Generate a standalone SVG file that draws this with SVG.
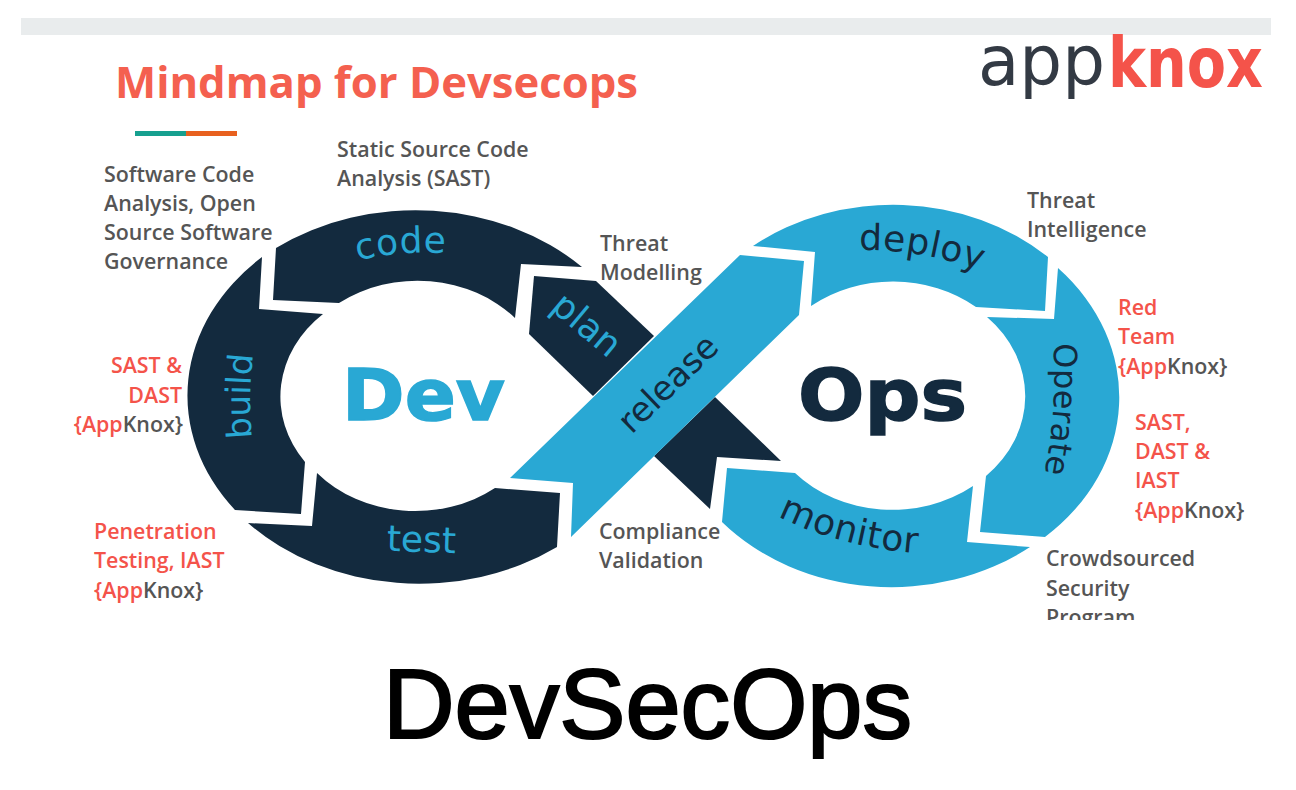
<svg xmlns="http://www.w3.org/2000/svg" width="1296" height="790" viewBox="0 0 1296 790">
<style>
.d{fill:#132a3e}.b{fill:#29a8d4}
.l{font:600 21.4px "Open Sans","Liberation Sans",sans-serif;fill:#555}
.r{fill:#f4534a}.k{fill:#555}
.t{font:400 36px "DejaVu Sans","Open Sans",sans-serif}
.tb{fill:#29a8d4}.td{fill:#132a3e}
</style>
<defs>
<clipPath id="c"><rect x="0" y="0" width="1296" height="619"/></clipPath>
<path id="pcode" d="M358 261Q400 249 452 254"/>
<path id="pbuild" d="M252 438Q248 397 253 354"/>
<path id="pdeploy" d="M859 250Q925 249 990 274"/>
<path id="poperate" d="M1053 344Q1058 405 1044 476"/>
<path id="pmonitor" d="M778 516Q840 548 926 554"/>
</defs>
<rect width="1296" height="790" fill="#fff"/>
<rect x="21" y="18" width="1250" height="17" fill="#e9eced"/>
<g id="title"><text x="115" y="98" font-family="Open Sans,sans-serif" font-weight="700" font-size="43" fill="#f4604f" textLength="523" lengthAdjust="spacingAndGlyphs">Mindmap for Devsecops</text>
<rect x="135" y="131" width="51" height="5" fill="#16a08f"/><rect x="186" y="131" width="51" height="5" fill="#e8611f"/></g>
<g id="logo"><text x="978" y="85" font-family="DejaVu Sans,sans-serif" font-size="70" fill="#333a44" textLength="127" lengthAdjust="spacingAndGlyphs">app</text>
<text x="1108" y="87" font-family="DejaVu Sans,sans-serif" font-weight="700" font-size="70" fill="#f4534a" textLength="155" lengthAdjust="spacingAndGlyphs">knox</text></g>

<g id="connectors">
<path id="ribbon-lower" class="d" d="M654 456L715 397L781 461L717 457L710 509Z"/>
</g>
<g id="node-plan"><path class="d" d="M534 276L596 281L654 336L593 396L529 334Z"/><text class="t tb" transform="translate(579 334) rotate(40)" text-anchor="middle">plan</text></g>
<g id="node-release"><path class="b" d="M740 255L804 261L799 315L571 537L573 483L510 478Z"/><text class="t td" font-size="34" style="font-size:34px" transform="translate(676 392) rotate(-44)" text-anchor="middle">release</text></g>
<g id="node-code"><path class="d" d="M276 248A233 189 0 0 1 582 267L521 264L515 318A131 112 0 0 0 339 303L273 300Z"/><text class="t tb" letter-spacing="0.5"><textPath href="#pcode">code</textPath></text></g>
<g id="node-build"><path class="d" d="M262 257A233 189 0 0 0 235 510L301 514L305 462A131 112 0 0 1 323 314L259 309Z"/><text class="t tb" style="font-size:34px"><textPath href="#pbuild">build</textPath></text></g>
<g id="node-test"><path class="d" d="M248 523L312 526L317 473A131 112 0 0 0 495 488L560 493L557 547A233 189 0 0 1 248 523Z"/><text class="t tb" transform="translate(421 552) rotate(2)" text-anchor="middle">test</text></g>
<g id="node-dev"><text x="342" y="420" font-family="DejaVu Sans,sans-serif" font-weight="700" font-size="72" fill="#29a8d4" stroke="#29a8d4" stroke-width="1.5" textLength="163" lengthAdjust="spacingAndGlyphs">Dev</text></g>
<g id="node-deploy"><path class="b" d="M753 246L815 252L811 306A131 112 0 0 1 976 307L1045 311L1048 257A224 188 0 0 0 753 246Z"/><text class="t td" letter-spacing="0.5"><textPath href="#pdeploy">deploy</textPath></text></g>
<g id="node-operate"><path class="b" d="M1058 268A224 188 0 0 1 1045 537L980 532L986 476A131 112 0 0 0 987 317L1054 319Z"/><text class="t td" style="font-size:32px"><textPath href="#poperate">Operate</textPath></text></g>
<g id="node-monitor"><path class="b" d="M727 468L795 473A131 112 0 0 0 973 486L967 542L1030 547A224 188 0 0 1 722 522Z"/><text class="t td" letter-spacing="0.7"><textPath href="#pmonitor">monitor</textPath></text></g>
<g id="node-ops"><text x="798" y="420" font-family="DejaVu Sans,sans-serif" font-weight="700" font-size="72" fill="#132a3e" stroke="#132a3e" stroke-width="1.5" textLength="169" lengthAdjust="spacingAndGlyphs">Ops</text></g>

<g id="labels" transform="translate(0 1)">
<text class="l" x="104" y="181">Software Code</text><text class="l" x="104" y="210">Analysis, Open</text><text class="l" x="104" y="239">Source Software</text><text class="l" x="104" y="268">Governance</text>
<text class="l" x="337" y="156">Static Source Code</text><text class="l" x="337" y="185">Analysis (SAST)</text>
<text class="l" x="600" y="250">Threat</text><text class="l" x="600" y="279">Modelling</text>
<text class="l" x="1027" y="207">Threat</text><text class="l" x="1027" y="236">Intelligence</text>
<text class="l r" x="1118" y="314">Red</text><text class="l r" x="1118" y="343">Team</text><text class="l" x="1118" y="373"><tspan class="r">{App</tspan>Knox}</text>
<text class="l r" x="182" y="372" text-anchor="end">SAST &amp;</text><text class="l r" x="182" y="402" text-anchor="end">DAST</text><text class="l" x="183" y="431" text-anchor="end"><tspan class="r">{App</tspan>Knox}</text>
<text class="l r" x="1135" y="429">SAST,</text><text class="l r" x="1135" y="458">DAST &amp;</text><text class="l r" x="1135" y="487">IAST</text><text class="l" x="1135" y="517"><tspan class="r">{App</tspan>Knox}</text>
<text class="l r" x="94" y="538">Penetration</text><text class="l r" x="94" y="567">Testing, IAST</text><text class="l" x="94" y="597"><tspan class="r">{App</tspan>Knox}</text>
<text class="l" x="599" y="538">Compliance</text><text class="l" x="599" y="567">Validation</text>
<g clip-path="url(#c)"><text class="l" x="1046" y="565">Crowdsourced</text><text class="l" x="1046" y="595">Security</text><text class="l" x="1046" y="624">Program</text></g>
</g>
<text x="383" y="738" font-family="Liberation Sans,Arial,sans-serif" font-size="99" fill="#000" stroke="#000" stroke-width="2.2" textLength="529" lengthAdjust="spacingAndGlyphs">DevSecOps</text>
</svg>
